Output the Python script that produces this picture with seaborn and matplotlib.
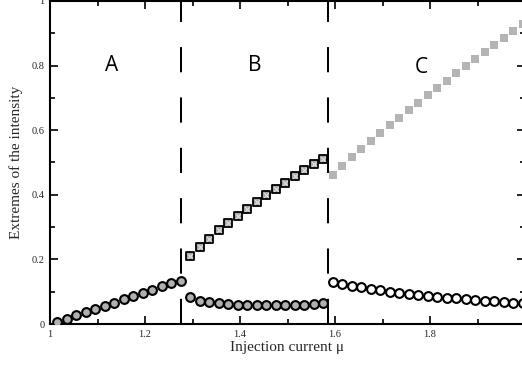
import matplotlib
matplotlib.use("Agg")
import matplotlib.pyplot as plt
from matplotlib.ticker import MultipleLocator, FuncFormatter
import seaborn as sns
import pandas as pd

# Regime A: single-valued intensity (filled circles)
mu_a = [1.015, 1.035, 1.055, 1.075, 1.095, 1.115, 1.135, 1.155, 1.175, 1.195,
        1.215, 1.235, 1.255, 1.275]
ext_a = [0.007, 0.016, 0.027, 0.036, 0.045, 0.055, 0.065, 0.076, 0.087, 0.097,
         0.106, 0.118, 0.127, 0.134]

# Regime B: maxima (squares) and minima (filled circles)
mu_b = [1.295, 1.315, 1.335, 1.355, 1.375, 1.395, 1.415, 1.435, 1.455, 1.475,
        1.495, 1.515, 1.535, 1.555, 1.575]
max_b = [0.210, 0.238, 0.264, 0.290, 0.313, 0.335, 0.356, 0.377, 0.398, 0.418,
         0.438, 0.457, 0.476, 0.494, 0.510]
min_b = [0.083, 0.072, 0.067, 0.064, 0.062, 0.060, 0.059, 0.058, 0.058, 0.058,
         0.059, 0.059, 0.060, 0.061, 0.064]

# Regime C: maxima (light squares) and minima (open circles)
mu_c = [1.595, 1.615, 1.635, 1.655, 1.675, 1.695, 1.715, 1.735, 1.755, 1.775,
        1.795, 1.815, 1.835, 1.855, 1.875, 1.895, 1.915, 1.935, 1.955, 1.975,
        1.995]
max_c = [0.462, 0.490, 0.517, 0.541, 0.567, 0.591, 0.615, 0.639, 0.663, 0.684,
         0.708, 0.731, 0.753, 0.776, 0.798, 0.820, 0.841, 0.864, 0.885, 0.907,
         0.928]
min_c = [0.129, 0.123, 0.119, 0.114, 0.108, 0.104, 0.100, 0.097, 0.094, 0.091,
         0.088, 0.085, 0.081, 0.080, 0.077, 0.075, 0.072, 0.070, 0.068, 0.066,
         0.064]

boundaries = [1.275, 1.586]
regions = ["A", "B", "C"]
region_x = [1.13, 1.43, 1.782]
region_y = [0.80, 0.80, 0.795]
x_ticks = [1.0, 1.2, 1.4, 1.6, 1.8]
y_ticks = [0.0, 0.2, 0.4, 0.6, 0.8, 1.0]

sns.set_theme(style="ticks")
serif = ["Liberation Serif", "DejaVu Serif"]

fig = plt.figure(figsize=(5.22, 3.68), dpi=100)
ax = fig.add_axes([50 / 522, 44 / 368, 475 / 522, 323 / 368])

gray = "#b0b0b0"

# bifurcation boundaries
for xb in boundaries:
    line, = ax.plot([xb, xb], [0, 1], color="black", lw=1.45, zorder=2)
    line.set_dashes([12.5, 12.5])

df_a = pd.DataFrame({"mu": mu_a, "ext": ext_a})
df_b = pd.DataFrame({"mu": mu_b, "max": max_b, "min": min_b})
df_c = pd.DataFrame({"mu": mu_c, "max": max_c, "min": min_c})

circ = dict(marker="o", s=40, edgecolor="black", linewidth=1.5, zorder=3)
sns.scatterplot(data=df_a, x="mu", y="ext", ax=ax, color=gray, **circ)
sns.scatterplot(data=df_b, x="mu", y="min", ax=ax, color=gray, **circ)
sns.scatterplot(data=df_c, x="mu", y="min", ax=ax, color="white", **circ)
sns.scatterplot(data=df_b, x="mu", y="max", ax=ax, marker="s", s=36,
                color="#a8a8a8", edgecolor="black", linewidth=1.3, zorder=3)
sns.scatterplot(data=df_b, x="mu", y="max", ax=ax, marker="x", s=11,
                color="#e2e2e2", linewidth=0.8, zorder=4)
sns.scatterplot(data=df_c, x="mu", y="max", ax=ax, marker="s", s=27,
                color="#b4b4b4", linewidth=0, zorder=3)

for lab, lx, ly in zip(regions, region_x, region_y):
    ax.text(lx, ly, lab, ha="center", va="center", fontsize=15,
            family=["Open Sans", "DejaVu Sans"], color="black")

ax.set_xlim(1.0, 2.0)
ax.set_ylim(0.0, 1.0)
ax.set_xticks(x_ticks)
ax.set_yticks(y_ticks)
ax.xaxis.set_minor_locator(MultipleLocator(0.1))
ax.yaxis.set_minor_locator(MultipleLocator(0.1))
fmt = FuncFormatter(lambda v, p: f"{v:g}")
ax.xaxis.set_major_formatter(fmt)
ax.yaxis.set_major_formatter(fmt)

ax.tick_params(which="both", direction="in", top=True, right=True,
               color="black", width=1.2)
ax.tick_params(which="major", length=6, pad=4, labelsize=7.5)
ax.tick_params(which="minor", length=3.5)
for t in ax.get_xticklabels() + ax.get_yticklabels():
    t.set_family(serif)

for sp in ax.spines.values():
    sp.set_linewidth(1.5)
    sp.set_color("black")

ax.set_xlabel("Injection current μ", fontsize=11, family=serif, labelpad=2)
ax.set_ylabel("Extremes of the intensity", fontsize=11, family=serif, labelpad=6)

fig.savefig("out.png", dpi=100)
